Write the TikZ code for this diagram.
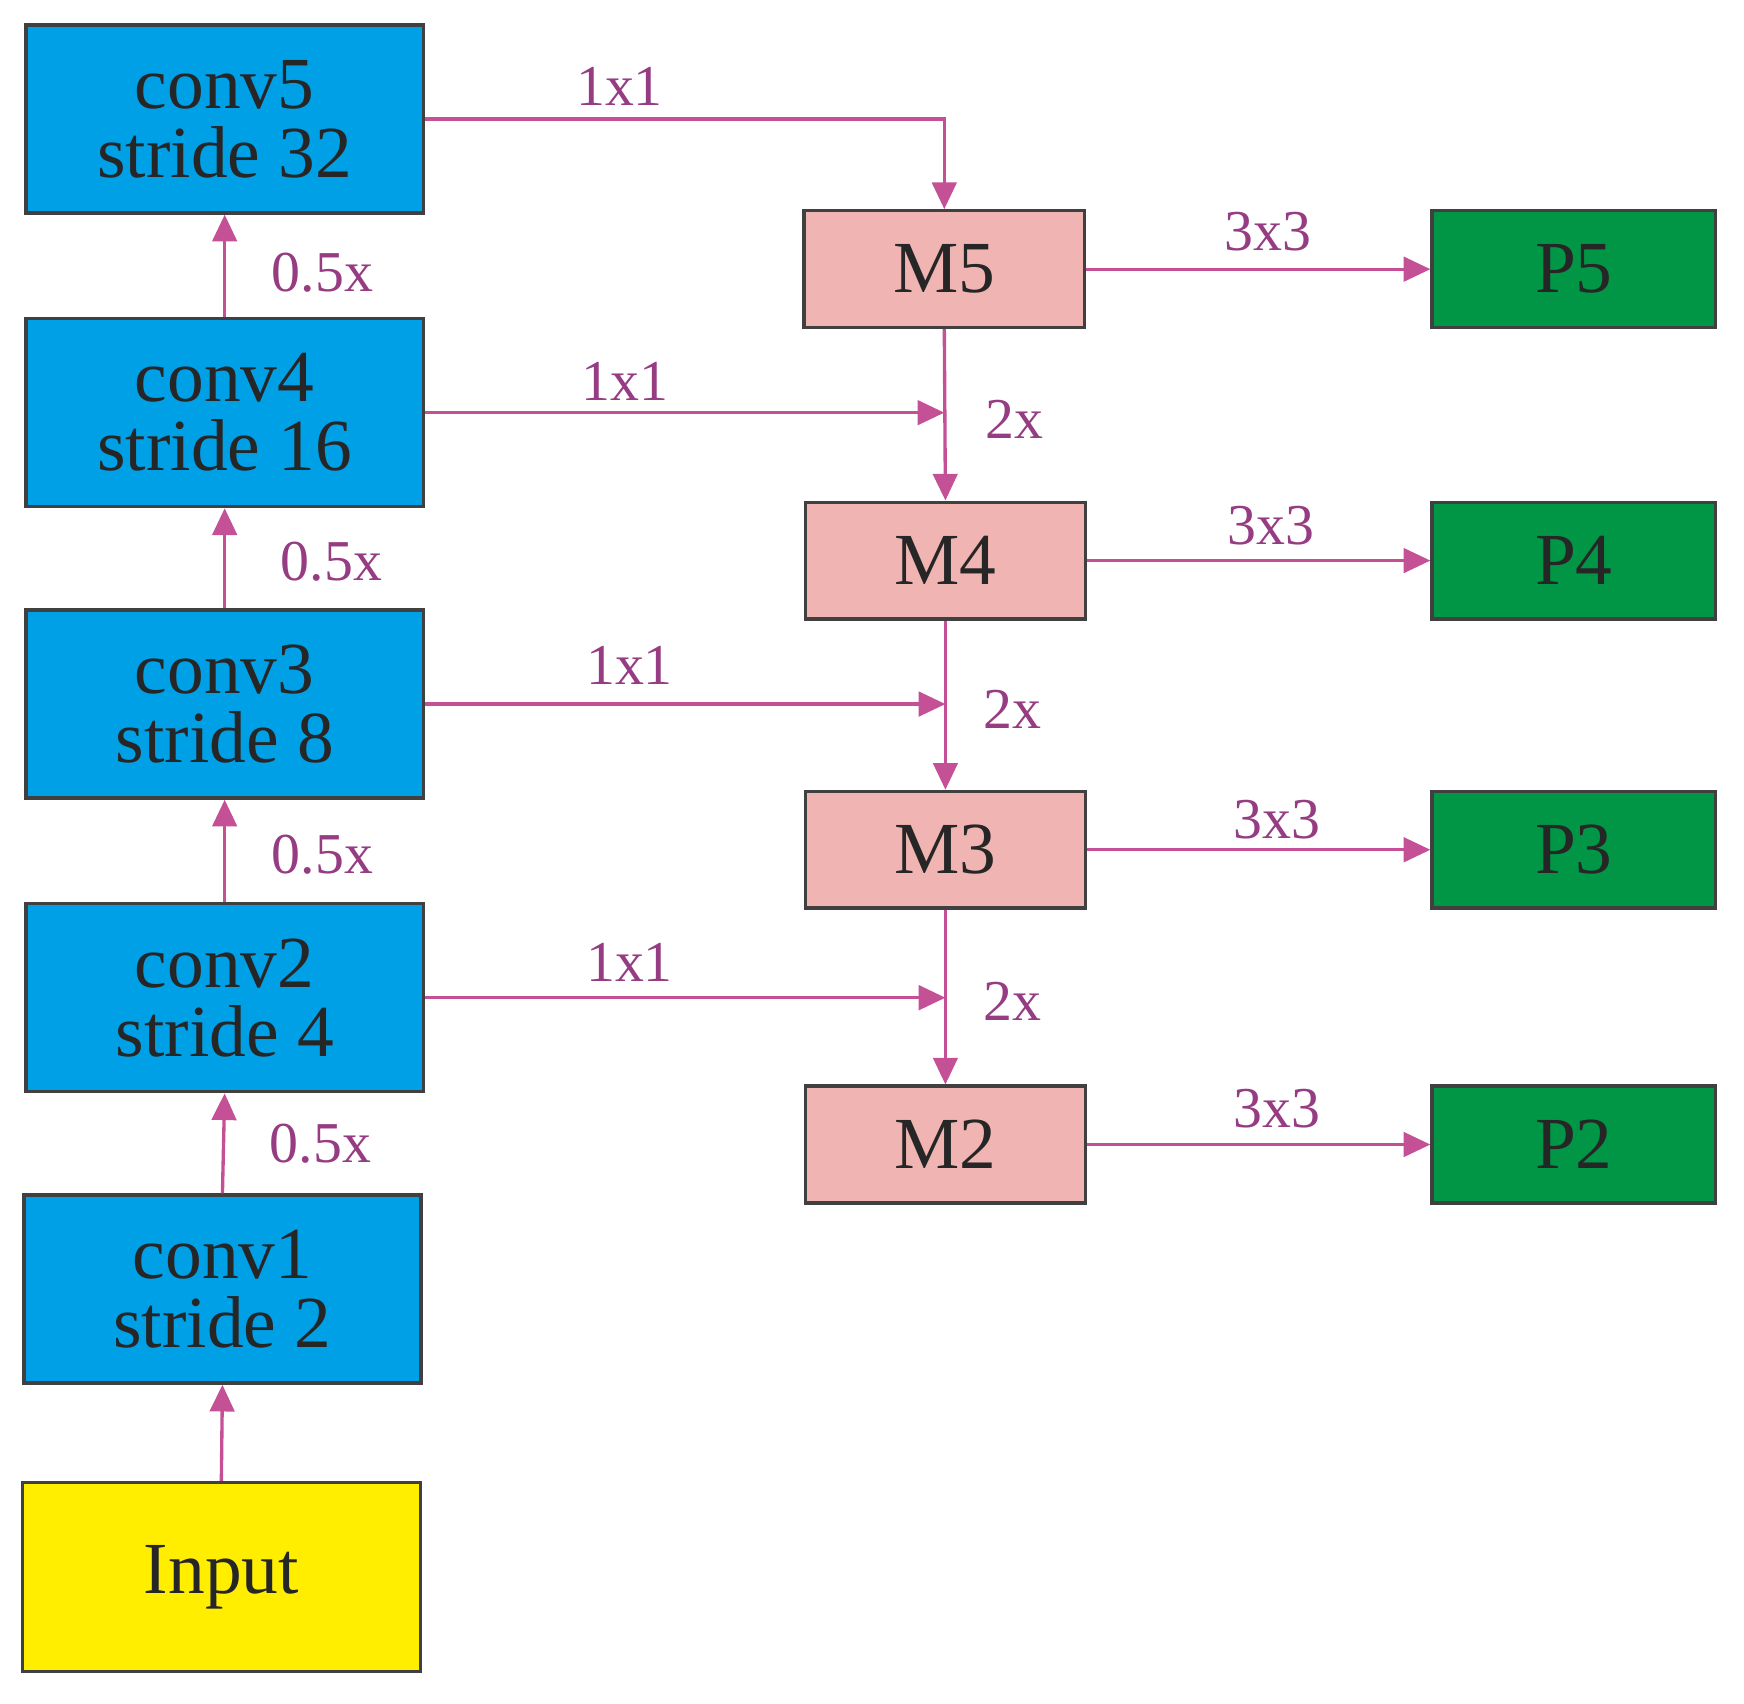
\documentclass[tikz,border=0pt]{standalone}
\usepackage{fontspec}
\setmainfont{Liberation Serif}
\usetikzlibrary{arrows.meta}
\definecolor{cblue}{RGB}{0,160,230}
\definecolor{cpink}{RGB}{240,180,178}
\definecolor{cgreen}{RGB}{0,150,70}
\definecolor{cyel}{RGB}{255,238,0}
\definecolor{carr}{RGB}{196,80,150}
\definecolor{clab}{RGB}{150,60,130}
\begin{document}
\begin{tikzpicture}[x=1pt,y=-1pt,
 box/.style={draw=black!75,line width=3pt,inner sep=0pt,font=\fontsize{66}{68}\selectfont,align=center,text=black!85},
 cv/.style={box,fill=cblue,minimum width=357pt,minimum height=169pt},
 mm/.style={box,fill=cpink,minimum width=252pt,minimum height=105pt},
 pp/.style={box,fill=cgreen,minimum width=255pt,minimum height=105pt},
 ar/.style={draw=carr,line width=3pt,-{Triangle[length=24pt,width=22pt]}},
 lab/.style={text=clab,font=\fontsize{52}{54}\selectfont,inner sep=0pt}]
\useasboundingbox (0,0) rectangle (1568,1532);
\node[cv] (c5) at (202,107) {conv5\\[-6pt]stride 32};
\node[cv] (c4) at (202,371) {conv4\\[-6pt]stride 16};
\node[cv] (c3) at (202,633) {conv3\\[-6pt]stride 8};
\node[cv] (c2) at (202,897) {conv2\\[-6pt]stride 4};
\node[cv] (c1) at (200,1159) {conv1\\[-6pt]stride 2};
\node[box,fill=cyel,minimum width=358pt,minimum height=170pt] (in) at (199,1418) {Input};
\node[mm] (m5) at (849,242) {M5};
\node[mm] (m4) at (850,504) {M4};
\node[mm] (m3) at (850,764) {M3};
\node[mm] (m2) at (850,1029) {M2};
\node[pp] (p5) at (1415,242) {P5};
\node[pp] (p4) at (1415,504) {P4};
\node[pp] (p3) at (1415,764) {P3};
\node[pp] (p2) at (1415,1029) {P2};
\foreach \a/\b in {in/c1,c1/c2,c2/c3,c3/c4,c4/c5}
  \draw[ar] (\a.north) -- (\b.south);
\foreach \a/\b in {m5/p5,m4/p4,m3/p3,m2/p2}
  \draw[ar] (\a.east) -- (\b.west);
\foreach \a/\b in {m5/m4,m4/m3,m3/m2}
  \draw[ar] (\a.south) -- (\b.north);
\draw[ar] (c5.east) -| (m5.north);
\coordinate (j4) at (m5.south |- c4.east);
\coordinate (j3) at (m4.south |- c3.east);
\coordinate (j2) at (m3.south |- c2.east);
\draw[ar] (c4.east) -- (j4);
\draw[ar] (c3.east) -- (j3);
\draw[ar] (c2.east) -- (j2);
\node[lab] at (290,245) {0.5x};
\node[lab] at (298,505) {0.5x};
\node[lab] at (290,768) {0.5x};
\node[lab] at (288,1028) {0.5x};
\node[lab] at (557,78) {1x1};
\node[lab] at (562,343) {1x1};
\node[lab] at (566,598) {1x1};
\node[lab] at (566,865) {1x1};
\node[lab] at (912,377) {2x};
\node[lab] at (910,638) {2x};
\node[lab] at (910,900) {2x};
\node[lab] at (1140,208) {3x3};
\node[lab] at (1143,473) {3x3};
\node[lab] at (1148,737) {3x3};
\node[lab] at (1148,997) {3x3};
\end{tikzpicture}
\end{document}
